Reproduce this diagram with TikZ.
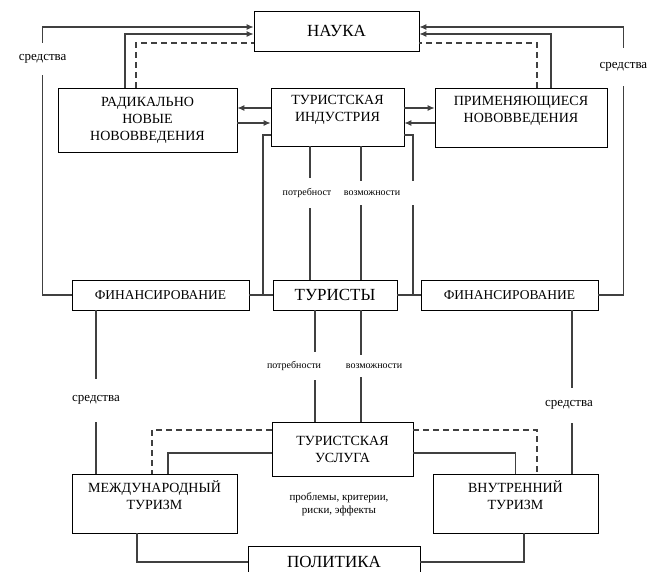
\documentclass[tikz,border=0pt]{standalone}
\usepackage{fontspec}
\setmainfont{Liberation Serif}
\usetikzlibrary{arrows.meta}

\begin{document}
\begin{tikzpicture}[x=1pt, y=-1pt,
  box/.style={rectangle, draw=black, line width=0.8pt, align=center, inner sep=0pt, font=\fontsize{14}{17}\selectfont},
  bigbox/.style={box, font=\fontsize{17}{20}\selectfont},
  conn/.style={draw=black!75, line width=1.1pt},
  arr/.style={conn, -{Latex[length=7pt,width=6pt]}},
  dashconn/.style={conn, dash pattern=on 6pt off 4pt},
  lbl/.style={fill=white, inner xsep=1pt, font=\fontsize{13}{15}\selectfont},
  tiny/.style={fill=white, inner xsep=1pt, inner ysep=10pt, font=\fontsize{10}{12}\selectfont}
]
\useasboundingbox (0,0) rectangle (665,572);

\node[bigbox, minimum width=165pt, minimum height=40pt] (nauka) at (336.5,31) {НАУКА};
\node[box, minimum width=179pt, minimum height=64pt] (radikal) at (147.5,120) {РАДИКАЛЬНО\\НОВЫЕ\\НОВОВВЕДЕНИЯ};
\node[box, minimum width=133pt, minimum height=58pt] (industry) at (337.5,117) {ТУРИСТСКАЯ\\ИНДУСТРИЯ\\~};
\node[box, minimum width=172pt, minimum height=59pt] (applied) at (521,117.5) {ПРИМЕНЯЮЩИЕСЯ\\НОВОВВЕДЕНИЯ\\~};

\node[box, minimum width=177pt, minimum height=30pt, font=\fontsize{13.5}{16}\selectfont] (finL) at (160.5,295) {ФИНАНСИРОВАНИЕ};
\node[bigbox, minimum width=124pt, minimum height=30pt] (tourists) at (335,295) {ТУРИСТЫ};
\node[box, minimum width=177pt, minimum height=30pt, font=\fontsize{13.5}{16}\selectfont] (finR) at (509.5,295) {ФИНАНСИРОВАНИЕ};

\node[box, minimum width=141pt, minimum height=54pt] (service) at (342.5,449) {ТУРИСТСКАЯ\\УСЛУГА};
\node[box, minimum width=165pt, minimum height=59pt] (intl) at (154.5,503.5) {МЕЖДУНАРОДНЫЙ\\ТУРИЗМ\\~};
\node[box, minimum width=165pt, minimum height=59pt] (domestic) at (515.5,503.5) {ВНУТРЕННИЙ\\ТУРИЗМ\\~};
\node[bigbox, minimum width=172pt, minimum height=32pt] (policy) at (334,562) {ПОЛИТИКА};
\node[align=center, font=\fontsize{11}{13}\selectfont] (issues) at (339,504) {проблемы, критерии,\\риски, эффекты};

\coordinate (jl) at (263,295);
\coordinate (jr) at (413,295);

% science
\draw[arr] (finL.west) -- ++(-29,0) |- node[lbl, pos=0.44, inner ysep=11.5pt] {средства} ([yshift=4pt]nauka.west);
\draw[arr] (finR.east) -- ++(25,0) |- node[lbl, pos=0.425, inner ysep=14.5pt] {средства} ([yshift=4pt]nauka.east);
\draw[arr] ([xshift=-22.5pt]radikal.north) |- ([yshift=-3pt]nauka.west);
\draw[dashconn] ([xshift=-11.5pt]radikal.north) |- ([yshift=-12pt]nauka.west);
\draw[arr] ([xshift=30pt]applied.north) |- ([yshift=-3pt]nauka.east);
\draw[dashconn] ([xshift=16pt]applied.north) |- ([yshift=-12pt]nauka.east);

\draw[arr] ([yshift=9pt]industry.west) -- ([yshift=9pt]industry.west -| radikal.east);
\draw[arr] ([yshift=-6pt]industry.west -| radikal.east) -- ([yshift=-6pt]industry.west);
\draw[arr] ([yshift=9pt]industry.east) -- ([yshift=9pt]industry.east -| applied.west);
\draw[arr] ([yshift=-6pt]industry.east -| applied.west) -- ([yshift=-6pt]industry.east);

% tourists row
\draw[conn] (finL.east) -- (tourists.west);
\draw[conn] (tourists.east) -- (finR.west);
\draw[conn] ([yshift=-18pt]industry.west) -| (jl);
\draw[conn] ([yshift=-18pt]industry.east) -| (jr);
\draw[conn] ([xshift=23.5pt]industry.south) -- node[tiny, pos=0.35, xshift=11pt, inner xsep=14pt] {возможности} ([xshift=23.5pt]industry.south |- tourists.north);
\draw[conn] ([xshift=-27.5pt]industry.south) -- node[tiny, pos=0.35, xshift=-3pt] {потребност} ([xshift=-27.5pt]industry.south |- tourists.north);

\draw[conn] ([xshift=-20pt]tourists.south) -- node[tiny, inner ysep=9pt, xshift=-21pt] {потребности} ([xshift=-20pt]tourists.south |- service.north);
\draw[conn] ([xshift=26pt]tourists.south) -- node[tiny, inner ysep=9pt, xshift=13pt] {возможности} ([xshift=26pt]tourists.south |- service.north);

\draw[conn] ([xshift=-64.5pt]finL.south) -- node[lbl, pos=0.55, inner ysep=17pt] {средства} ([xshift=-64.5pt]finL.south |- intl.north);
\draw[conn] ([xshift=62.5pt]finR.south) -- node[lbl, pos=0.58, inner ysep=13pt, xshift=-3pt] {средства} ([xshift=62.5pt]finR.south |- domestic.north);

% service and policy
\draw[dashconn] ([yshift=19pt]service.west) -| ([xshift=-2.5pt]intl.north);
\draw[conn] ([yshift=-4pt]service.west) -| ([xshift=13.5pt]intl.north);
\draw[dashconn] ([yshift=19pt]service.east) -| ([xshift=21.5pt]domestic.north);
\draw[conn] ([yshift=-4pt]service.east) -| (domestic.north);
\draw[conn] ([xshift=-17.5pt]intl.south) |- (policy.west);
\draw[conn] ([xshift=8.5pt]domestic.south) |- (policy.east);
\end{tikzpicture}
\end{document}
